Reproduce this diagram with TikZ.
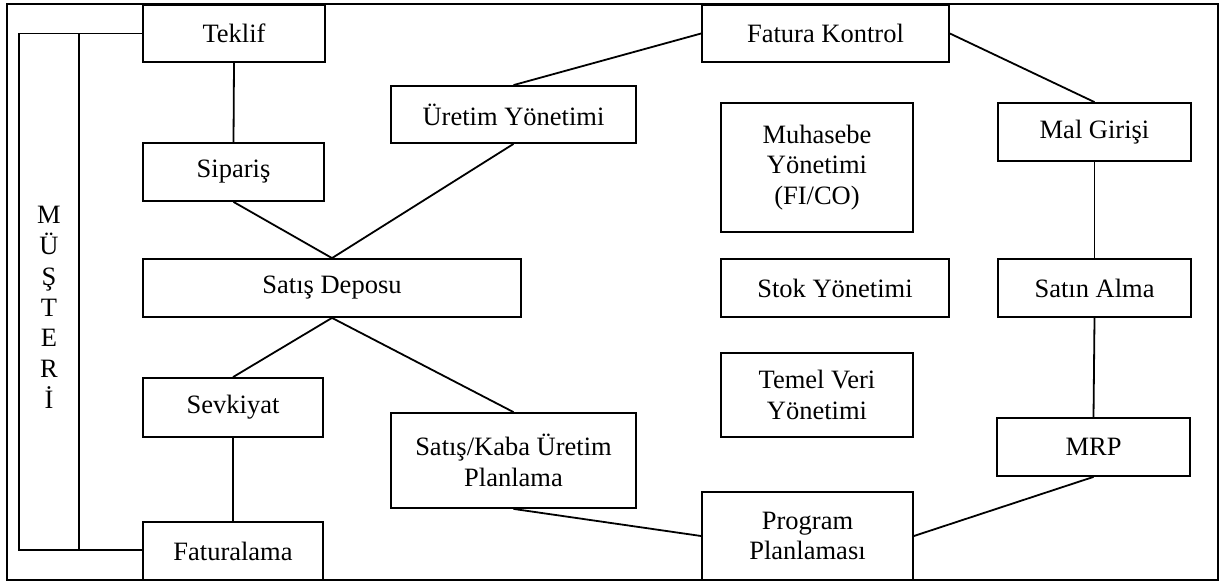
\documentclass[tikz,border=0pt]{standalone}
\usepackage{fontspec}
\setmainfont{Liberation Serif}
\begin{document}
\begin{tikzpicture}[x=0.5pt,y=-0.5pt,
  box/.style={draw,line width=0.9pt,inner sep=0pt,align=center,
    font=\fontsize{13.25pt}{15.4pt}\selectfont},
  link/.style={line width=0.9pt}]
\useasboundingbox (0,0) rectangle (1225,583);
% outer frame
\draw[line width=1.3pt] (7,4) rectangle (1218,580);

% sales side
\node[box,minimum width=91pt,minimum height=28.5pt] (teklif) at (234,33.5) {Teklif};
\node[box,minimum width=90.5pt,minimum height=29pt] (siparis) at (233.5,172) {Sipariş};
\node[box,minimum width=189pt,minimum height=29pt] (depo) at (332,288) {Satış Deposu};
\node[box,minimum width=90pt,minimum height=29.5pt] (sevk) at (233,407.5) {Sevkiyat};
\node[box,minimum width=90pt,minimum height=29pt] (fatura) at (233,551) {Faturalama};

% production side
\node[box,minimum width=122.5pt,minimum height=28.5pt] (uretim) at (513.5,114.5) {Üretim Yönetimi};
\node[box,minimum width=122.5pt,minimum height=47.5pt] (kaba) at (513.5,460.5) {Satış/Kaba Üretim\\Planlama};

% central modules
\node[box,minimum width=123.5pt,minimum height=28.5pt] (fkontrol) at (825.5,33.5) {Fatura Kontrol};
\node[box,minimum width=96pt,minimum height=64.5pt] (muhasebe) at (817,167.5) {Muhasebe\\Yönetimi\\(FI/CO)};
\node[box,minimum width=114pt,minimum height=29pt] (stok) at (835,288) {Stok Yönetimi};
\node[box,minimum width=96pt,minimum height=42pt] (temel) at (817,395) {Temel Veri\\Yönetimi};
\node[box,minimum width=105.5pt,minimum height=44pt] (program) at (807.5,536) {Program\\Planlaması};

% purchasing side
\node[box,minimum width=96.5pt,minimum height=29pt] (mal) at (1094.5,132) {Mal Girişi};
\node[box,minimum width=96.5pt,minimum height=29pt] (satin) at (1094.5,288) {Satın Alma};
\node[box,minimum width=96.5pt,minimum height=29pt] (mrp) at (1093.5,447) {MRP};

% customer bracket
\coordinate (bt1) at (19,33.5);
\coordinate (bb1) at (19,550);
\coordinate (bt2) at (79,33.5);
\coordinate (bb2) at (79,550);
\draw[link] (teklif.west) -- (bt1) -- (bb1) -- (fatura.west |- bb1);
\draw[link] (bt2) -- (bb2);
\node[align=center,inner sep=0pt,font=\fontsize{13.25pt}{15.4pt}\selectfont] (musteri) at (49,307.5) {M\\Ü\\Ş\\T\\E\\R\\İ};

% connectors
\draw[link] (teklif.south) -- (siparis.north);
\draw[link] (siparis.south) -- (depo.north);
\draw[link] (uretim.south) -- (depo.north);
\draw[link] (uretim.north) -- (fkontrol.west);
\draw[link] (fkontrol.east) -- (mal.north);
\draw[link] (mal.south) -- (satin.north);
\draw[link] (satin.south) -- (mrp.north);
\draw[link] (mrp.south) -- (program.east);
\draw[link] (kaba.south) -- (program.west);
\draw[link] (depo.south) -- (sevk.north);
\draw[link] (depo.south) -- (kaba.north);
\draw[link] (sevk.south) -- (fatura.north);
\end{tikzpicture}
\end{document}
